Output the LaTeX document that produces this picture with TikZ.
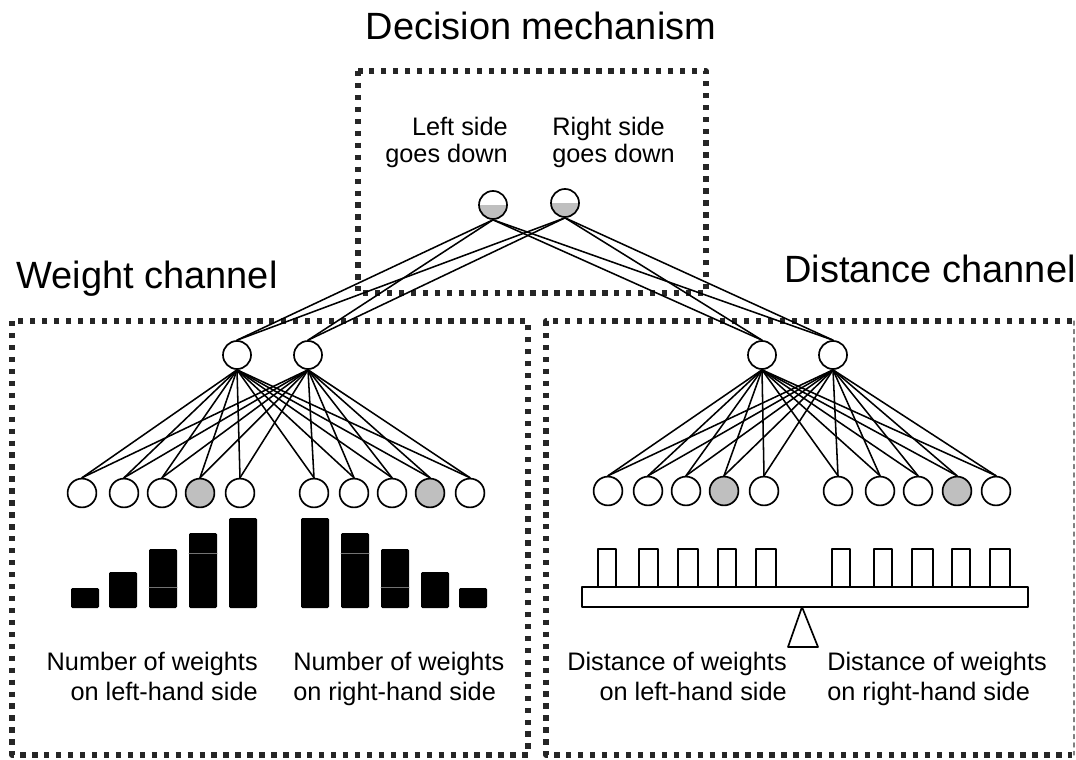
\documentclass[tikz,border=0pt]{standalone}
\usepackage{fontspec}
\setmainfont{Liberation Sans}

\begin{document}
\begin{tikzpicture}[
    x=0.025cm, y=-0.025cm,
    line cap=round,
    line join=round,
    every node/.style={
      inner sep=0pt
    },
    unit/.style={circle, draw, line width=1.2pt, minimum size=0.7cm, fill=white},
    inunit/.style={unit, minimum size=0.72cm},
    active/.style={inunit, fill=black!25},
    decide/.style={unit, path picture={
        \fill[black!25] (path picture bounding box.west) rectangle (path picture bounding box.south east);}},
    link/.style={line width=1.1pt},
    frame/.style={draw=black!85, line width=3.8pt, line cap=butt, dash pattern=on 3.8pt off 4.7pt},
    title/.style={font=\fontsize{27}{32}\selectfont},
    label/.style={font=\fontsize{18}{21}\selectfont}
]
\useasboundingbox (0,0) rectangle (1076,760);

% dotted frames
\draw[frame] (358,71) rectangle (706,293);
\draw[frame] (12,321) rectangle (528,755);
\draw[frame] (1072,321) -- (546,321) -- (546,755) -- (1072,755);
\draw[black!50, line width=0.8pt, dashed] (1074,321) -- (1074,755);

% titles
\node[title, anchor=base] (tdec) at (541,40) {Decision mechanism};
\node[title, anchor=base] (twgt) at (147,289) {Weight channel};
\node[title, anchor=base] (tdst) at (930,283) {Distance channel};

% decision units
\node[label, align=right, anchor=north east, font=\fontsize{18}{19}\selectfont] (ldown) at (508,117) {Left side\\goes down};
\node[label, align=left, anchor=north west, font=\fontsize{18}{19}\selectfont] (rdown) at (552,117) {Right side\\goes down};
\node[decide] (d1) at (493,205) {};
\node[decide] (d2) at (565,203) {};

% hidden units
\foreach \n/\x in {w1/237, w2/308, r1/762, r2/833}
  \node[unit] (\n) at (\x,355) {};

% input units
\foreach \x/\s [count=\i] in {82/inunit,124/inunit,162/inunit,200/active,240/inunit,
                               314/inunit,354/inunit,392/inunit,430/active,470/inunit}
  \node[\s] (wi\i) at (\x,493) {};
\foreach \x/\s [count=\i] in {608/inunit,648/inunit,686/inunit,724/active,764/inunit,
                               838/inunit,880/inunit,918/inunit,957/active,996/inunit}
  \node[\s] (di\i) at (\x,491) {};

% connections
\foreach \d in {d1,d2}
  \foreach \h in {w1,w2,r1,r2}
    \draw[link] (\d.south) -- (\h.north);
\foreach \h in {w1,w2}
  \foreach \i in {1,...,10}
    \draw[link] (\h.south) -- (wi\i.north);
\foreach \h in {r1,r2}
  \foreach \i in {1,...,10}
    \draw[link] (\h.south) -- (di\i.north);

% stacks of weights
\foreach \x/\t in {71/588,109/572,149/549,189/533,229/518,
                   301/518,341/533,381/549,421/572,459/588}
  \fill[rounded corners=1pt] (\x,\t) rectangle (\x+28,608);
\foreach \x/\y in {149/587,189/553,341/553,381/587}
  \draw[black!55, line width=0.5pt] (\x,\y) -- (\x+28,\y);

% balance beam
\foreach \x/\w in {598/18,639/19,678/20,718/18,756/20,
                   832/18,874/18,912/21,952/18,990/20}
  \draw[line width=1.2pt, fill=white] (\x,587) rectangle (\x+\w,549);
\draw[line width=1.2pt, fill=white] (582,587) rectangle (1028,607);
\draw[line width=1.2pt, fill=white] (802,607) -- (788,647) -- (818,647) -- cycle;

% input labels
\node[label, align=right, anchor=north east] (nl) at (258,652) {Number of weights\\on left-hand side};
\node[label, align=left, anchor=north west] (nr) at (293,652) {Number of weights\\on right-hand side};
\node[label, align=right, anchor=north east] (sl) at (787,652) {Distance of weights\\on left-hand side};
\node[label, align=left, anchor=north west] (sr) at (827,652) {Distance of weights\\on right-hand side};
\end{tikzpicture}
\end{document}
